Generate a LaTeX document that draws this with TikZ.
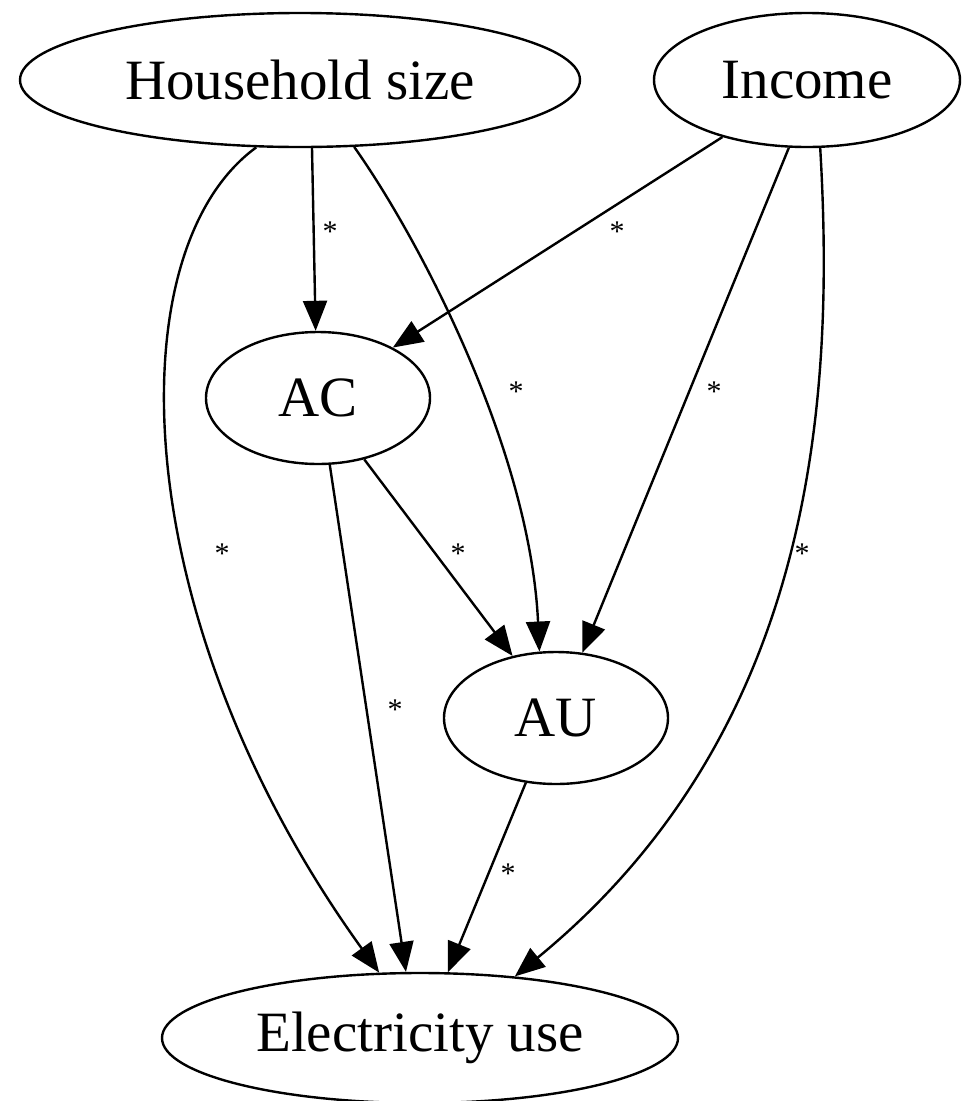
\documentclass[tikz,border=0pt]{standalone}
\usepackage{fontspec}
\setmainfont{Liberation Serif}
\usetikzlibrary{shapes.geometric,arrows.meta}
\tikzset{
  ell/.style={draw,ellipse,line width=2.4pt,inner sep=0pt,font=\fontsize{57}{60}\selectfont},
  arr/.style={line width=2.4pt,-{Triangle[length=30pt,width=24pt]}},
  lab/.style={font=\fontsize{30}{32}\selectfont,inner sep=0pt}
}
\begin{document}
\begin{tikzpicture}[x=1pt,y=-1pt]
\useasboundingbox (0,0) rectangle (968,1101);
\node[ell,minimum width=560pt,minimum height=134pt] (hs) at (300,80) {Household size};
\node[ell,minimum width=306pt,minimum height=134pt] (inc) at (807,80) {Income};
\node[ell,minimum width=224pt,minimum height=132pt] (ac) at (318,398) {AC};
\node[ell,minimum width=224pt,minimum height=132pt] (au) at (556,718) {AU};
\node[ell,minimum width=516pt,minimum height=130pt] (el) at (420,1038) {Electricity use};
% edges
\draw[arr] (hs.-80) -- (ac.92);
\draw[arr] (inc.-146) -- (ac.34);
\draw[arr] (hs.-51) .. controls (420,240) and (530,450) .. (au.104);
\draw[arr] (inc.-105) -- (au.68);
\draw[arr] (ac.-53) -- (au.125);
\draw[arr] (hs.-123) .. controls (115,250) and (125,620) .. (el.122);
\draw[arr] (ac.-80) -- (el.102);
\draw[arr] (au.-115) -- (el.67);
\draw[arr] (inc.-79) .. controls (835,400) and (815,730) .. (el.33);
% labels
\node[lab] (l1) at (330,232) {*};
\node[lab] (l2) at (617,232) {*};
\node[lab] (l3) at (516,392) {*};
\node[lab] (l4) at (714,392) {*};
\node[lab] (l5) at (222,554) {*};
\node[lab] (l6) at (458,554) {*};
\node[lab] (l7) at (802,554) {*};
\node[lab] (l8) at (395,710) {*};
\node[lab] (l9) at (508,874) {*};
\end{tikzpicture}
\end{document}
